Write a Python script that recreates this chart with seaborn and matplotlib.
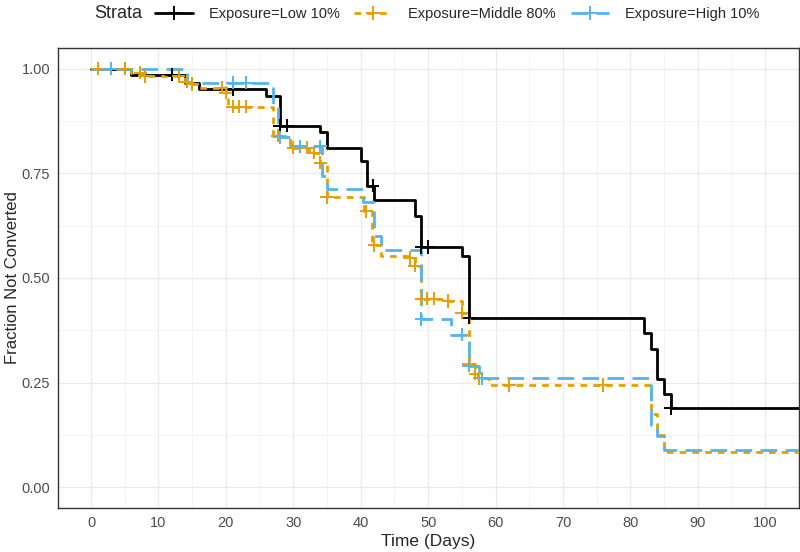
"""Kaplan-Meier style conversion curves by exposure group."""

import matplotlib

matplotlib.use("Agg")
import matplotlib.pyplot as plt
import numpy as np
import pandas as pd
import seaborn as sns
from matplotlib.lines import Line2D

GROUPS = ["Exposure=Low 10%", "Exposure=Middle 80%", "Exposure=High 10%"]
COLORS = {
    "Exposure=Low 10%": "#000000",
    "Exposure=Middle 80%": "#E69F00",
    "Exposure=High 10%": "#56B4E9",
}
DASHES = {
    "Exposure=Low 10%": "",
    "Exposure=Middle 80%": (2.4, 2.2),
    "Exposure=High 10%": (6.0, 3.0),
}

# step curves: time of each step, survival after the step (last entry = end of follow-up)
LOW_T = [0, 6, 14, 16, 26, 28, 34, 35, 40, 41, 42, 48, 49, 55, 56, 82, 83, 84, 85, 86, 105]
LOW_S = [1.0, 0.986, 0.967, 0.952, 0.936, 0.864, 0.850, 0.812, 0.779, 0.721, 0.686,
         0.648, 0.574, 0.553, 0.405, 0.369, 0.331, 0.258, 0.222, 0.188, 0.188]
MID_T = [0, 6, 7.5, 14, 15, 16, 20, 20.3, 27, 29.5, 32.4, 34, 35, 40.5, 41.6, 43, 47, 48,
         49, 52, 55, 56, 57, 57.4, 59, 83, 84, 85, 105]
MID_S = [1.0, 0.991, 0.982, 0.969, 0.964, 0.955, 0.943, 0.910, 0.840, 0.812, 0.800, 0.776,
         0.693, 0.660, 0.579, 0.553, 0.548, 0.529, 0.450, 0.445, 0.417, 0.295, 0.271, 0.260,
         0.244, 0.174, 0.125, 0.083, 0.083]
HIGH_T = [0, 14.2, 27, 27.7, 29.5, 34.2, 35, 40.3, 41.9, 43, 49, 53.4, 56, 57.6, 83, 84, 85, 105]
HIGH_S = [1.0, 0.967, 0.917, 0.836, 0.815, 0.745, 0.712, 0.681, 0.601, 0.567, 0.402, 0.364,
          0.290, 0.260, 0.148, 0.122, 0.089, 0.089]

# censoring times
LOW_CENS = [5, 12, 21, 28, 29, 41.8, 49, 50, 56, 86]
MID_CENS = [1, 5, 7.3, 8, 13, 14.2, 15, 19.4, 20, 21, 22, 23, 27.7, 30, 32, 33, 34, 35,
            40.8, 42, 47.3, 48, 49, 49.8, 50.8, 53, 55, 56, 57, 57.6, 62, 76]
HIGH_CENS = [3, 21, 23, 28, 31, 34, 49, 55, 56, 58]

CURVES = {
    "Exposure=Low 10%": (LOW_T, LOW_S, LOW_CENS),
    "Exposure=Middle 80%": (MID_T, MID_S, MID_CENS),
    "Exposure=High 10%": (HIGH_T, HIGH_S, HIGH_CENS),
}


def surv_at(times, surv, t):
    idx = np.searchsorted(times, t, side="right") - 1
    return surv[max(idx, 0)]


def build_frames():
    line_rows, cens_rows = [], []
    for group, (times, surv, cens) in CURVES.items():
        for t, s in zip(times, surv):
            line_rows.append({"strata": group, "time": t, "surv": s})
        for t in cens:
            cens_rows.append({"strata": group, "time": t, "surv": surv_at(times, surv, t)})
    return pd.DataFrame(line_rows), pd.DataFrame(cens_rows)


def main():
    sns.set_style("white")
    plt.rcParams["font.family"] = ["Liberation Sans", "DejaVu Sans"]

    lines, cens = build_frames()

    fig = plt.figure(figsize=(8, 5.52), dpi=100)
    ax = fig.add_axes([58 / 800, 1 - 508 / 552, 741 / 800, 460 / 552])

    for group in GROUPS:
        sub = lines[lines["strata"] == group]
        sns.lineplot(
            data=sub, x="time", y="surv", color=COLORS[group], estimator=None,
            sort=False, drawstyle="steps-post", linewidth=2.0,
            dashes=False, ax=ax, legend=False, zorder=3,
        )
        if DASHES[group]:
            ax.lines[-1].set_dashes(DASHES[group])
    sns.scatterplot(
        data=cens, x="time", y="surv", hue="strata", palette=COLORS,
        marker="+", s=90, linewidth=1.4, ax=ax, legend=False, zorder=4,
    )

    ax.set_xlim(-4.9, 105)
    ax.set_ylim(-0.05, 1.05)
    ax.set_xticks(np.arange(0, 101, 10))
    ax.set_xticks(np.arange(5, 106, 10), minor=True)
    ax.set_yticks([0, 0.25, 0.5, 0.75, 1.0])
    ax.set_yticks([0.125, 0.375, 0.625, 0.875], minor=True)
    ax.set_yticklabels(["0.00", "0.25", "0.50", "0.75", "1.00"])
    ax.grid(which="major", color="#EBEBEB", linewidth=1.0, zorder=0)
    ax.grid(which="minor", color="#F2F2F2", linewidth=0.6, zorder=0)
    ax.set_axisbelow(True)
    for sp in ax.spines.values():
        sp.set_color("#333333")
        sp.set_linewidth(1.0)
    ax.tick_params(which="major", length=3.5, width=1.0, color="#333333",
                   labelcolor="#4D4D4D", labelsize=10.5, pad=2)
    ax.tick_params(which="minor", length=0)
    ax.set_xlabel("Time (Days)", fontsize=12.5, labelpad=3)
    ax.set_ylabel("Fraction Not Converted", fontsize=12, labelpad=1)

    handles = [
        Line2D([], [], color=COLORS[g], linewidth=2.0, marker="+", markersize=10,
               markeredgewidth=1.4, dashes=DASHES[g] if DASHES[g] else (None, None))
        for g in GROUPS
    ]
    fig.text(94 / 800, 1 - 14 / 552, "Strata", fontsize=13, va="center", ha="left")
    fig.legend(handles, GROUPS, loc="center left", bbox_to_anchor=(155 / 800, 1 - 14 / 552),
               ncol=3, frameon=False, fontsize=10.5, handlelength=2.6, handletextpad=1.1,
               columnspacing=1.0, borderpad=0, borderaxespad=0)

    fig.savefig("out.png", dpi=100)


if __name__ == "__main__":
    main()
